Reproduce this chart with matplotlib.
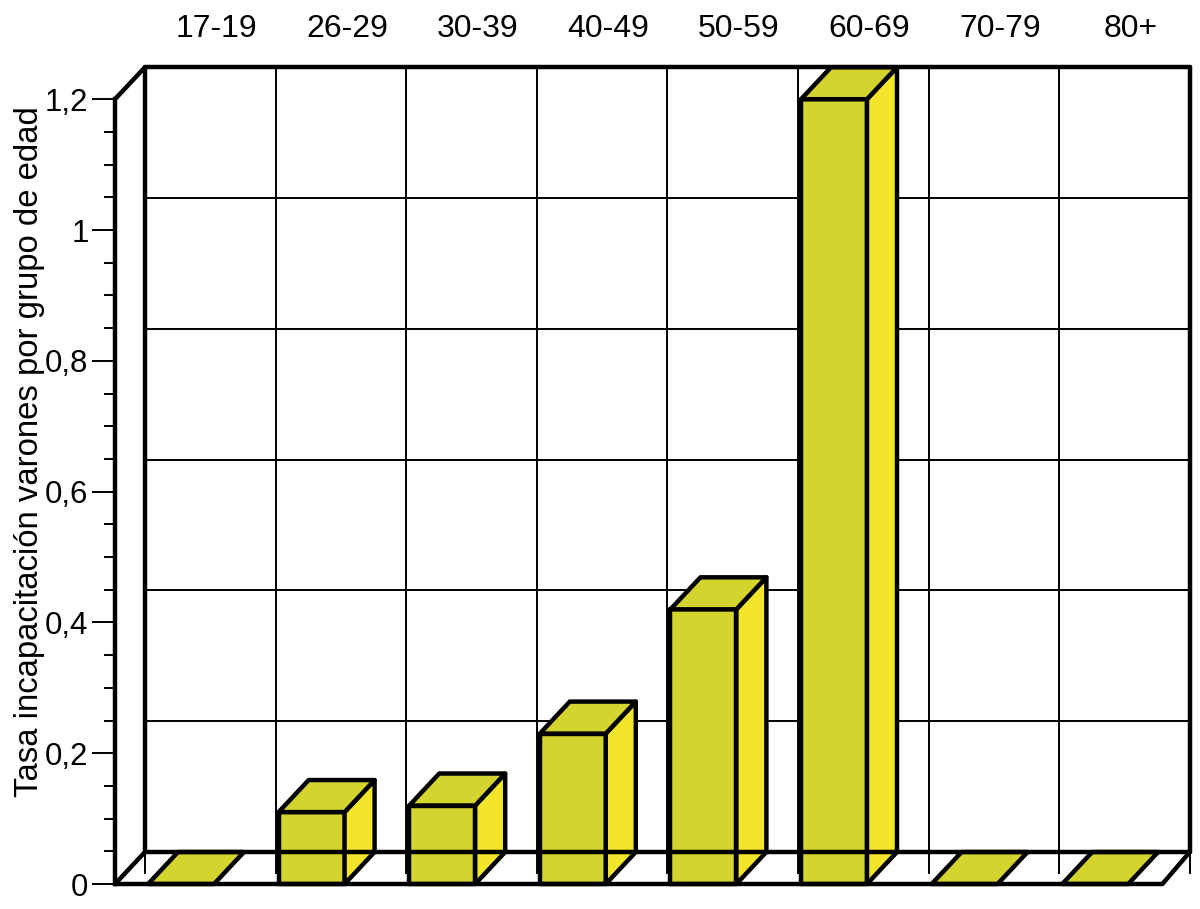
import numpy as np
import matplotlib
matplotlib.use('Agg')
import matplotlib.pyplot as plt

plt.rcParams.update({'font.family': ['Liberation Sans', 'DejaVu Sans']})
plt.rcParams.update({'font.size': 23})

# data
grupos = ['17-19', '26-29', '30-39', '40-49', '50-59', '60-69', '70-79', '80+']
tasa = [0, 0.11, 0.12, 0.23, 0.42, 1.2, 0, 0]
major_ticks = [0, 0.2, 0.4, 0.6, 0.8, 1.0, 1.2]
major_labels = ['0', '0,2', '0,4', '0,6', '0,8', '1', '1,2']
minor_ticks = np.arange(0.05, 1.2, 0.05)

W, H = 1200, 909
cat_px = 130.6
val_px = 654.0
dx = 30 / cat_px   # depth of the fake 3d, in category units
dy = 32 / val_px   # same in value units

front = '#D4D42E'
side = '#F2E52A'
thick = 3.2
thin = 1.4

fig = plt.figure(figsize=(W / 100, H / 100), dpi=100)
ax = fig.add_axes([115 / W, (H - 884) / H, 1075 / W, 817 / H])
ax.set_xlim(0, 1075 / cat_px)
ax.set_ylim(0, 817 / val_px)

n = len(grupos)
top = 1.2 + dy

# back wall grid
for i in range(n + 1):
    ax.plot([i + dx, i + dx], [dy - 21 / val_px, top], color='black', lw=thin,
            clip_on=False, zorder=1)
for v in major_ticks[1:-1]:
    ax.plot([dx, n + dx], [v + dy, v + dy], color='black', lw=thin, clip_on=False, zorder=1)

# bars
bar_w = 0.505
bar_off = 0.253
for i, v in enumerate(tasa):
    x0 = i + bar_off
    x1 = x0 + bar_w
    kw = dict(edgecolor='black', lw=thick, joinstyle='round', clip_on=False, zorder=2)
    if v > 0:
        ax.fill([x0, x1, x1, x0], [0, 0, v, v], facecolor=front, **kw)
        ax.fill([x1, x1 + dx, x1 + dx, x1], [0, dy, v + dy, v], facecolor=side, **kw)
    ax.fill([x0, x1, x1 + dx, x0 + dx], [v, v, v + dy, v + dy], facecolor=front, **kw)

# box lines, floor line runs over the bars
ln = dict(color='black', lw=thick, clip_on=False, zorder=3, solid_capstyle='round')
ax.plot([dx, dx], [dy, top], **ln)
ax.plot([n + dx, n + dx], [dy, top], **ln)
ax.plot([dx, n + dx], [dy, dy], **ln)
ax.plot([dx, n + dx], [top, top], **ln)
ax.plot([0, dx], [0, dy], **ln)
ax.plot([0, dx], [1.2, top], **ln)
ax.plot([0, 8.02], [0, 0], **ln)
ax.plot([8.02, n + dx], [0, dy], **ln)

for s in ['top', 'right', 'bottom']:
    ax.spines[s].set_visible(False)
ax.spines['left'].set_bounds(0, 1.2)
ax.spines['left'].set_linewidth(thick)
ax.spines['left'].set_zorder(4)

ax.set_yticks(major_ticks, major_labels)
ax.set_yticks(minor_ticks, minor=True)
ax.tick_params(axis='y', which='major', length=16.5, width=thin, pad=2.5, labelsize=22.5)
ax.tick_params(axis='y', which='minor', length=8, width=thin)

ax.set_xticks([i + 0.5 + dx + 6 / cat_px for i in range(n)], grupos)
ax.tick_params(axis='x', bottom=False, top=False, labelbottom=False, labeltop=True, pad=13)

fig.text(30 / W, 1 - 452 / H, 'Tasa incapacitación varones por grupo de edad',
         rotation=90, ha='center', va='center', fontsize=23.7)

fig.savefig('out.png', dpi=100)
